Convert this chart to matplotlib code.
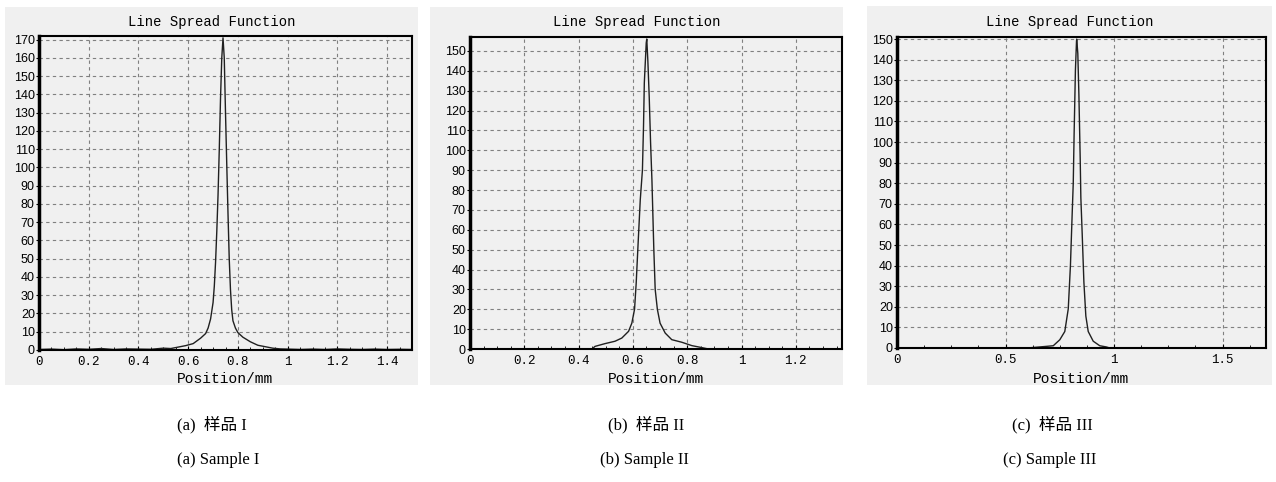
import matplotlib
matplotlib.use("Agg")
import matplotlib.pyplot as plt
from matplotlib.patches import Rectangle
from matplotlib.ticker import MultipleLocator

# ---- data ----
x1 = [0.00, 0.05, 0.10, 0.15, 0.20, 0.25, 0.30, 0.35, 0.40, 0.45, 0.50, 0.53, 0.56, 0.59,
      0.62, 0.65, 0.67, 0.68, 0.69, 0.70, 0.705, 0.71, 0.715, 0.72, 0.725, 0.73, 0.735, 0.74,
      0.745, 0.75, 0.755, 0.76, 0.765, 0.77, 0.775, 0.78, 0.79, 0.80, 0.82, 0.85, 0.88, 0.91,
      0.94, 0.97, 1.00, 1.05, 1.10, 1.15, 1.20, 1.25, 1.30, 1.35, 1.40, 1.45, 1.50]
y1 = [0.3, 0.5, 0.2, 0.6, 0.4, 0.8, 0.3, 0.6, 0.5, 0.4, 1.0, 0.8, 1.6, 2.4,
      3.5, 6.5, 9, 12, 17, 26, 35, 48, 65, 85, 110, 138, 160, 171,
      160, 130, 102, 75, 50, 33, 22, 16, 12, 9.5, 7, 4.5, 2.6, 1.8,
      1.0, 0.6, 0.5, 0.3, 0.5, 0.3, 0.6, 0.4, 0.3, 0.5, 0.3, 0.4, 0.3]

x2 = [0.00, 0.20, 0.40, 0.45, 0.46, 0.497, 0.534, 0.559, 0.584, 0.596, 0.606, 0.612, 0.618,
      0.627, 0.635, 0.639, 0.642, 0.649, 0.651, 0.655, 0.660, 0.665, 0.670, 0.672, 0.677,
      0.682, 0.690, 0.700, 0.719, 0.743, 0.780, 0.817, 0.854, 0.878, 1.00, 1.20, 1.37]
y2 = [0, 0, 0, 0, 1.3, 2.7, 3.9, 5.5, 8.9, 13, 20, 33, 50,
      75, 90, 112, 134, 154, 156, 145, 127, 104, 85, 75, 50,
      30, 20, 13, 8, 4.7, 3.4, 1.7, 0.7, 0, 0, 0, 0]

x3 = [0.00, 0.30, 0.60, 0.689, 0.72, 0.75, 0.773, 0.789, 0.799, 0.807, 0.812, 0.816, 0.822,
      0.827, 0.828, 0.833, 0.838, 0.844, 0.847, 0.853, 0.861, 0.870, 0.881, 0.904, 0.934,
      0.965, 0.98, 1.20, 1.50, 1.70]
y3 = [0, 0, 0, 0.8, 1.1, 4, 8, 19, 40, 65, 80, 104, 135,
      149, 150, 143, 123, 92, 73, 56, 32, 15.5, 8, 3.3, 1.1,
      0.5, 0, 0, 0, 0]

xs = [x1, x2, x3]
ys = [y1, y2, y3]
xmax = [1.5, 1.37, 1.7]
ymax = [172, 157, 151]
xmajor = [0.2, 0.2, 0.5]
xticklab = [["0", "0.2", "0.4", "0.6", "0.8", "1", "1.2", "1.4"],
            ["0", "0.2", "0.4", "0.6", "0.8", "1", "1.2"],
            ["0", "0.5", "1", "1.5"]]
cap_cn = ["(a)  样品 I", "(b)  样品 II", "(c)  样品 III"]
cap_en = ["(a) Sample I", "(b) Sample II", "(c) Sample III"]

W, H = 1276, 482
fig = plt.figure(figsize=(W / 100, H / 100), dpi=100)
fig.patch.set_facecolor("white")

# pixel boxes: (left, top, right, bottom)
axbox = [(39, 36, 412, 350), (470, 37, 842, 349), (897, 37, 1266, 348)]
panel = [(5, 7, 418, 385), (430, 7, 843, 385), (867, 6, 1272, 385)]
cap_x = [(177, 177), (608, 600), (1012, 1003)]

mono = "Liberation Mono"
bg = "#f0f0f0"

for i in range(3):
    l, t, r, b = panel[i]
    fig.add_artist(Rectangle((l / W, 1 - b / H), (r - l) / W, (b - t) / H,
                             transform=fig.transFigure, facecolor=bg,
                             edgecolor="none", zorder=0))
    l, t, r, b = axbox[i]
    ax = fig.add_axes([l / W, 1 - b / H, (r - l) / W, (b - t) / H])
    ax.set_facecolor(bg)
    ax.plot(xs[i], ys[i], color="#202020", lw=1.0)
    ax.set_xlim(0, xmax[i])
    ax.set_ylim(0, ymax[i])
    ax.xaxis.set_major_locator(MultipleLocator(xmajor[i]))
    ax.xaxis.set_minor_locator(MultipleLocator(xmajor[i] / 4))
    ax.yaxis.set_major_locator(MultipleLocator(10))
    ax.set_xticks([k * xmajor[i] for k in range(len(xticklab[i]))])
    ax.set_xticklabels(xticklab[i], fontfamily=mono, fontsize=9)
    for lab in ax.get_yticklabels():
        lab.set_fontfamily("Liberation Sans")
        lab.set_fontsize(9)
    ax.tick_params(axis="x", which="major", direction="in", length=3, pad=4, color="black")
    ax.tick_params(axis="x", which="minor", direction="in", length=2, color="black")
    ax.tick_params(axis="y", direction="out", length=2, pad=1, color="black")
    ax.grid(True, which="major", color="#808080", lw=0.8, linestyle=(0, (3, 3)))
    for s in ax.spines.values():
        s.set_color("black")
        s.set_linewidth(1.5)
    ax.spines["left"].set_linewidth(2.5)

    cx = (axbox[i][0] + axbox[i][2]) / 2
    fig.text((panel[i][0] + panel[i][2]) / 2 / W, 1 - 22 / H, "Line Spread Function",
             family=mono, fontsize=10, ha="center", va="center")
    fig.text(cx / W, 1 - 379 / H, "Position/mm", family=mono, fontsize=10.5,
             ha="center", va="center")

    fig.text(cap_x[i][0] / W, 1 - 425 / H, cap_cn[i], family=["Liberation Serif", "Noto Sans CJK SC"],
             fontsize=12, ha="left", va="center")
    fig.text(cap_x[i][1] / W, 1 - 460 / H, cap_en[i], family="Liberation Serif",
             fontsize=12, ha="left", va="center")

fig.savefig("out.png", dpi=100)
